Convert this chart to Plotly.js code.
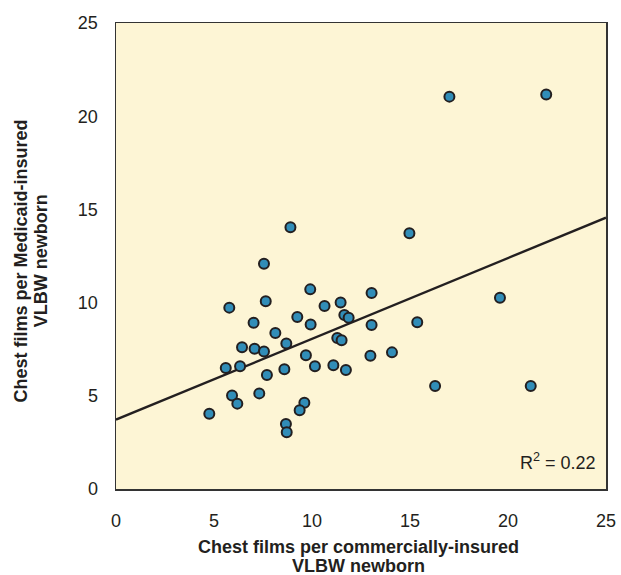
<!DOCTYPE html>
<html>
<head>
<meta charset="utf-8">
<script src="https://cdn.plot.ly/plotly-3.0.1.min.js"></script>
<style>html,body{margin:0;padding:0;background:#fff;}#chart{width:621px;height:575px;}</style>
</head>
<body>
<div id="chart"></div>
<script>
// Chest films per commercially-insured VLBW newborn (x) vs per Medicaid-insured (y)
const xVals = [8.90, 7.55, 9.91, 13.04, 5.78, 7.64, 10.64, 11.46, 11.65, 11.87,
               7.02, 9.25, 9.93, 13.04, 8.13, 8.69, 6.43, 7.07, 7.55, 11.29,
               11.51, 9.69, 14.08, 12.98, 5.60, 6.33, 8.59, 10.15, 11.09, 11.73,
               7.70, 5.92, 6.19, 7.31, 9.61, 9.37, 4.76, 8.67, 8.71,
               17.01, 21.95, 14.97, 19.59, 15.37, 16.28, 21.16];
const yVals = [14.04, 12.09, 10.71, 10.52, 9.73, 10.07, 9.82, 10.00, 9.33, 9.19,
               8.92, 9.23, 8.82, 8.80, 8.37, 7.80, 7.60, 7.53, 7.38, 8.10,
               7.98, 7.17, 7.33, 7.15, 6.49, 6.58, 6.42, 6.58, 6.64, 6.38,
               6.12, 5.01, 4.58, 5.13, 4.63, 4.22, 4.04, 3.49, 3.04,
               21.05, 21.17, 13.72, 10.26, 8.94, 5.53, 5.53];
// Regression line
const fitX = [0, 25];
const fitY = [3.72, 14.56];
const tickVals = [0, 5, 10, 15, 20, 25];
const tickText = ['0', '5', '10', '15', '20', '25'];
const rSquaredText = 'R<sup>2</sup> = 0.22';
const xTitleLines = ['Chest films per commercially-insured', 'VLBW newborn'];
const yTitleLines = ['Chest films per Medicaid-insured', 'VLBW newborn'];

const FONT = 'Liberation Sans, Arial, Helvetica, sans-serif';
const INK = '#231f20';

const traces = [
  {
    x: fitX, y: fitY, type: 'scatter', mode: 'lines',
    line: {color: INK, width: 2.4},
    hoverinfo: 'skip', showlegend: false
  },
  {
    x: xVals, y: yVals, type: 'scatter', mode: 'markers',
    marker: {size: 10, color: '#318db8', line: {color: INK, width: 2}},
    showlegend: false
  }
];

const axisCommon = {
  range: [0, 25],
  tickvals: tickVals,
  ticktext: tickText,
  showgrid: false,
  zeroline: false,
  showline: true,
  mirror: true,
  linecolor: '#333333',
  linewidth: 1.5,
  ticks: '',
  tickfont: {family: FONT, size: 18, color: INK},
  fixedrange: true
};

const layout = {
  width: 621,
  height: 575,
  margin: {l: 116, r: 15, t: 23, b: 86, pad: 0},
  paper_bgcolor: '#ffffff',
  plot_bgcolor: '#fdf5d5',
  showlegend: false,
  xaxis: Object.assign({}, axisCommon, {ticklabelstandoff: 15}),
  yaxis: Object.assign({}, axisCommon, {ticklabelstandoff: 13}),
  annotations: [
    {
      text: rSquaredText, xref: 'paper', yref: 'paper',
      x: 0.984, y: 0.059, xanchor: 'right', yanchor: 'middle',
      showarrow: false, font: {family: FONT, size: 18, color: INK}
    },
    {
      text: xTitleLines[0], xref: 'paper', yref: 'paper',
      x: 0.494, y: -0.124, xanchor: 'center', yanchor: 'middle',
      showarrow: false, font: {family: FONT, size: 18, color: INK, weight: 'bold'}
    },
    {
      text: xTitleLines[1], xref: 'paper', yref: 'paper',
      x: 0.494, y: -0.166, xanchor: 'center', yanchor: 'middle',
      showarrow: false, font: {family: FONT, size: 18, color: INK, weight: 'bold'}
    },
    {
      text: yTitleLines[0], xref: 'paper', yref: 'paper',
      x: -0.193, y: 0.489, xanchor: 'center', yanchor: 'middle', textangle: -90,
      showarrow: false, font: {family: FONT, size: 18, color: INK, weight: 'bold'}
    },
    {
      text: yTitleLines[1], xref: 'paper', yref: 'paper',
      x: -0.153, y: 0.489, xanchor: 'center', yanchor: 'middle', textangle: -90,
      showarrow: false, font: {family: FONT, size: 18, color: INK, weight: 'bold'}
    }
  ]
};

Plotly.newPlot('chart', traces, layout, {displayModeBar: false, staticPlot: true});
</script>
</body>
</html>
